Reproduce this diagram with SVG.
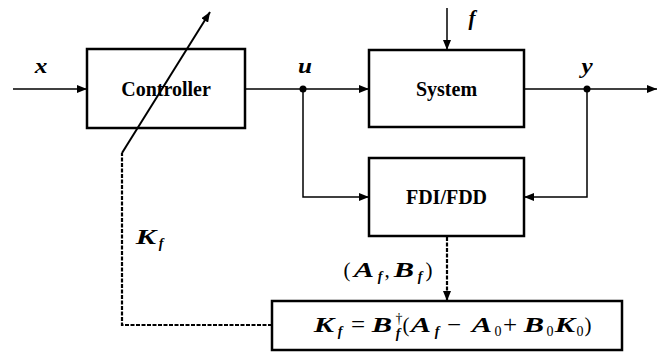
<svg xmlns="http://www.w3.org/2000/svg" width="657" height="352" viewBox="0 0 657 352">
<defs>
<marker id="ah" viewBox="0 0 10 8" refX="10" refY="4" markerWidth="10" markerHeight="8" markerUnits="userSpaceOnUse" orient="auto">
<path d="M0,0 L10,4 L0,8 Z" fill="#000"/>
</marker>
</defs>
<style>
text{font-family:'Liberation Serif','Times New Roman',serif}
.box{fill:#fff;stroke:#000;stroke-width:2.5}
.ln{fill:none;stroke:#000;stroke-width:1.5}
.dash{fill:none;stroke:#000;stroke-width:2.2;stroke-dasharray:4,1.5}
.lbl{font-weight:bold;font-size:20px;text-anchor:middle}
.m{font-size:21px;text-anchor:middle}
.bi{font-weight:bold;font-style:italic}
.sub{font-size:14px}
.op{font-size:25px}
</style>
<rect width="657" height="352" fill="#fff"/>
<g id="controller">
<rect class="box" x="87" y="49" width="158" height="79"/>
<text class="lbl" x="166" y="96">Controller</text>
</g>
<g id="system">
<rect class="box" x="369" y="50" width="155" height="77"/>
<text class="lbl" x="446.5" y="96">System</text>
</g>
<g id="fdi">
<rect class="box" x="369" y="158" width="155" height="78"/>
<text class="lbl" x="446.5" y="204">FDI/FDD</text>
</g>
<g id="formula">
<rect class="box" x="272" y="301" width="350" height="49"/>
<text class="m bi" transform="translate(324 332) scale(1.45 1)">K</text>
<text class="m bi" transform="translate(382 332) scale(1.45 1)">B</text>
<text class="m bi" transform="translate(421 332) scale(1.45 1)">A</text>
<text class="m bi" transform="translate(482 332) scale(1.45 1)">A</text>
<text class="m bi" transform="translate(534 332) scale(1.45 1)">B</text>
<text class="m bi" transform="translate(565 332) scale(1.45 1)">K</text>
<text class="m"><tspan class="sub bi" x="340" y="336">f</tspan><tspan class="op" x="358" y="333">=</tspan><tspan class="sub" x="399" y="323">†</tspan><tspan class="sub bi" x="398" y="338">f</tspan><tspan x="406" y="332">(</tspan><tspan class="sub bi" x="437" y="336">f</tspan><tspan class="op" x="454" y="333">−</tspan><tspan class="sub" x="498" y="336">0</tspan><tspan class="op" x="510" y="333">+</tspan><tspan class="sub" x="550" y="336">0</tspan><tspan class="sub" x="580" y="336">0</tspan><tspan x="588" y="332">)</tspan></text>
</g>
<g id="connectors">
<line class="ln" x1="13" y1="89" x2="87" y2="89" marker-end="url(#ah)"/>
<line class="ln" x1="245" y1="89" x2="369" y2="89" marker-end="url(#ah)"/>
<line class="ln" x1="524" y1="89" x2="657" y2="89" marker-end="url(#ah)"/>
<line class="ln" x1="447" y1="8" x2="447" y2="50" marker-end="url(#ah)"/>
<polyline class="ln" points="303,89 303,197 369,197" marker-end="url(#ah)"/>
<polyline class="ln" points="587,89 587,197 524,197" marker-end="url(#ah)"/>
<circle cx="303" cy="89" r="3.5" fill="#000"/>
<circle cx="587" cy="89" r="3.5" fill="#000"/>
<line class="dash" x1="447" y1="237" x2="447" y2="301" marker-end="url(#ah)"/>
<polyline class="dash" points="272,325 122,325 122,153"/>
<line x1="122" y1="153" x2="210" y2="12" stroke="#000" stroke-width="2" marker-end="url(#ah)"/>
</g>
<g id="labels">
<text class="m bi" transform="translate(41 73) scale(1.2 1)">x</text>
<text class="m bi" transform="translate(305 73) scale(1.2 1)">u</text>
<text class="m bi" transform="translate(587 73) scale(1.2 1)">y</text>
<text class="m bi" x="472" y="25">f</text>
<text class="m bi" transform="translate(146 244) scale(1.45 1)">K</text>
<text class="m"><tspan class="sub bi" x="161" y="248">f</tspan></text>
<text class="m bi" transform="translate(364 277) scale(1.45 1)">A</text>
<text class="m bi" transform="translate(404 277) scale(1.45 1)">B</text>
<text class="m"><tspan x="347" y="277">(</tspan><tspan class="sub bi" x="380" y="281">f</tspan><tspan x="387" y="277">,</tspan><tspan class="sub bi" x="420" y="281">f</tspan><tspan x="429" y="277">)</tspan></text>
</g>
</svg>
